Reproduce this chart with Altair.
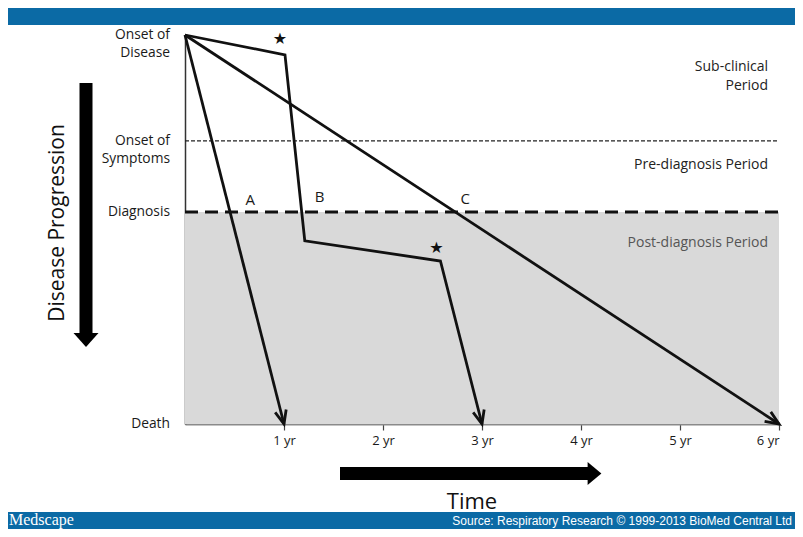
import math
import altair as alt
import pandas as pd

# ---------------- data ----------------
year_ticks = [1, 2, 3, 4, 5, 6]

stage_names = ["Onset of\nDisease", "Onset of\nSymptoms", "Diagnosis", "Death"]
stage_levels = [0, 27.2, 45.5, 100]
stage_dy = [7, -2, -2, -4]

path_ids = ["A", "A", "B", "B", "B", "B", "B", "C", "C"]
path_x = [0, 1.0, 0, 1.01, 1.21, 2.58, 3.0, 0, 6.0]
path_y = [0, 100, 0, 5.1, 52.9, 58.1, 100, 0, 100]

star_x = [0.96, 2.54]
star_y = [0.9, 54.8]

letter_names = ["A", "B", "C"]
letter_x = [0.66, 1.36, 2.83]
letter_y = [42.4, 41.6, 42.2]

period_names = ["Sub-clinical\nPeriod", "Pre-diagnosis Period", "Post-diagnosis Period"]
period_levels = [8.2, 33.4, 53.5]
period_colors = ["#222222", "#222222", "#555555"]
period_x = 5.89

W, H = 594, 389
FONT = "Open Sans"

# ---------------- frames ----------------
paths = pd.DataFrame({"path": path_ids, "x": path_x, "y": path_y,
                      "order": list(range(len(path_ids)))})

heads = []
for pid in ["A", "B", "C"]:
    pts = [(x, y) for p, x, y in zip(path_ids, path_x, path_y) if p == pid]
    (x0, y0), (x1, y1) = pts[-2], pts[-1]
    dx = (x1 - x0) * W / 6.0
    dy = (y1 - y0) * H / 100.0
    ang = (-math.degrees(math.atan2(dx, dy))) % 360
    heads.append({"x": x1, "y": y1, "angle": ang})
heads = pd.DataFrame(heads)

stars = pd.DataFrame({"x": star_x, "y": star_y})
letters = pd.DataFrame({"x": letter_x, "y": letter_y, "t": letter_names})
stages = pd.DataFrame({"y": stage_levels, "t": stage_names, "dy": stage_dy})
periods = pd.DataFrame({"x": [period_x] * 3, "y": period_levels,
                        "t": period_names, "c": period_colors})
shade = pd.DataFrame({"x": [0], "x2": [year_ticks[-1]],
                      "y": [stage_levels[2]], "y2": [stage_levels[3]]})
sym = pd.DataFrame({"x": [0], "x2": [year_ticks[-1]], "y": [stage_levels[1]]})
diag = pd.DataFrame({"x": [0], "x2": [year_ticks[-1]], "y": [stage_levels[2]]})

one = alt.Data(values=[{"k": 1}])

xs = alt.Scale(domain=[0, 6], nice=False, zero=False)
ys = alt.Scale(domain=[0, 100], reverse=True, nice=False, zero=False)
x_axis = alt.Axis(values=year_ticks, labelExpr="datum.value + ' yr'", title=None,
                  grid=False, domainColor="#8a8a8a", domainWidth=2,
                  tickColor="#444444", tickSize=6, tickWidth=1.2,
                  labelFont=FONT, labelFontSize=13, labelColor="#1a1a1a",
                  labelPadding=4)
y_axis = alt.Axis(values=[], labels=False, ticks=False, title=None, grid=False,
                  domainColor="#333333", domainWidth=1.5)


def X(f):
    return alt.X(f"{f}:Q", scale=xs, axis=x_axis)


def Y(f):
    return alt.Y(f"{f}:Q", scale=ys, axis=y_axis)


header = alt.Chart(one).mark_rect(color="#0b6aa5").encode(
    x=alt.value(-180), x2=alt.value(620), y=alt.value(-40), y2=alt.value(-10))
footer = alt.Chart(one).mark_rect(color="#0b6aa5").encode(
    x=alt.value(-180), x2=alt.value(620), y=alt.value(477), y2=alt.value(510))

shade_l = alt.Chart(shade).mark_rect(color="#d9d9d9").encode(
    x=X("x"), x2="x2:Q", y=Y("y"), y2="y2:Q")
sym_l = alt.Chart(sym).mark_rule(color="#222222", strokeWidth=1.3,
                                 strokeDash=[4, 2]).encode(x=X("x"), x2="x2:Q", y=Y("y"))
diag_l = alt.Chart(diag).mark_rule(color="#111111", strokeWidth=3,
                                   strokeDash=[13, 7]).encode(x=X("x"), x2="x2:Q", y=Y("y"))

lines = alt.Chart(paths).mark_line(color="#111111", strokeWidth=2.8,
                                   strokeJoin="miter").encode(
    x=X("x"), y=Y("y"), detail="path:N", order="order:Q")

heads_l = alt.Chart(heads).mark_point(
    shape="M-0.42,-1L0,0L0.42,-1", filled=False, color="#111111",
    strokeWidth=2.8, size=729, opacity=1).encode(
    x=X("x"), y=Y("y"), angle=alt.Angle("angle:Q", scale=None))

stars_l = alt.Chart(stars).mark_text(text="★", font="DejaVu Sans", fontSize=16,
                                     color="#111111", baseline="middle").encode(
    x=X("x"), y=Y("y"))

letters_l = alt.Chart(letters).mark_text(font=FONT, fontSize=15, color="#1a1a1a",
                                         baseline="middle").encode(
    x=X("x"), y=Y("y"), text="t:N")

stage_l = alt.Chart(stages).mark_text(font=FONT, fontSize=13.8, color="#1a1a1a",
                                      align="right", baseline="middle",
                                      lineBreak="\n", lineHeight=18).encode(
    x=alt.value(-15), y=Y("y"), text="t:N", yOffset=alt.YOffset("dy:Q", scale=None))

period_l = alt.Chart(periods).mark_text(font=FONT, fontSize=14, align="right",
                                        baseline="middle", lineBreak="\n",
                                        lineHeight=19).encode(
    x=X("x"), y=Y("y"), text="t:N", color=alt.Color("c:N", scale=None))

# big decorative arrows
dp_shaft = alt.Chart(one).mark_rule(color="#000000", strokeWidth=13).encode(
    x=alt.value(-99), y=alt.value(48), y2=alt.value(300))
dp_head = alt.Chart(one).mark_point(shape="M-1,-0.56L1,-0.56L0,0.56Z", filled=True,
                                    color="#000000", size=625, opacity=1).encode(
    x=alt.value(-99), y=alt.value(305))
dp_text = alt.Chart(one).mark_text(text="Disease Progression", font=FONT, fontSize=21,
                                   angle=270, color="#111111", baseline="middle").encode(
    x=alt.value(-127), y=alt.value(188))

t_shaft = alt.Chart(one).mark_rule(color="#000000", strokeWidth=13).encode(
    y=alt.value(438.5), x=alt.value(155), x2=alt.value(405))
t_head = alt.Chart(one).mark_point(shape="M-0.6,-1L0.6,0L-0.6,1Z", filled=True,
                                   color="#000000", size=529, opacity=1).encode(
    x=alt.value(409.5), y=alt.value(438.5))
t_text = alt.Chart(one).mark_text(text="Time", font=FONT, fontSize=22,
                                  color="#111111", baseline="middle").encode(
    x=alt.value(287), y=alt.value(467))

med_text = alt.Chart(one).mark_text(text="Medscape", font="Liberation Serif",
                                    fontSize=16, color="#ffffff", align="left",
                                    baseline="middle").encode(
    x=alt.value(-176), y=alt.value(485))
src_text = alt.Chart(one).mark_text(
    text="Source: Respiratory Research © 1999-2013 BioMed Central Ltd",
    font="Liberation Sans", fontSize=12, color="#ffffff", align="right",
    baseline="middle").encode(x=alt.value(607), y=alt.value(486))

chart = alt.layer(
    header, footer, shade_l, sym_l, diag_l, lines, heads_l, stars_l, letters_l,
    stage_l, period_l, dp_shaft, dp_head, dp_text, t_shaft, t_head, t_text,
    med_text, src_text
).properties(
    width=W, height=H,
    autosize=alt.AutoSizeParams(type="none"),
    padding={"left": 177, "top": 27, "right": 16, "bottom": 105},
    background="#ffffff",
).configure_view(stroke=None)

chart.save("out.html", embed_options={"renderer": "svg", "actions": False})
